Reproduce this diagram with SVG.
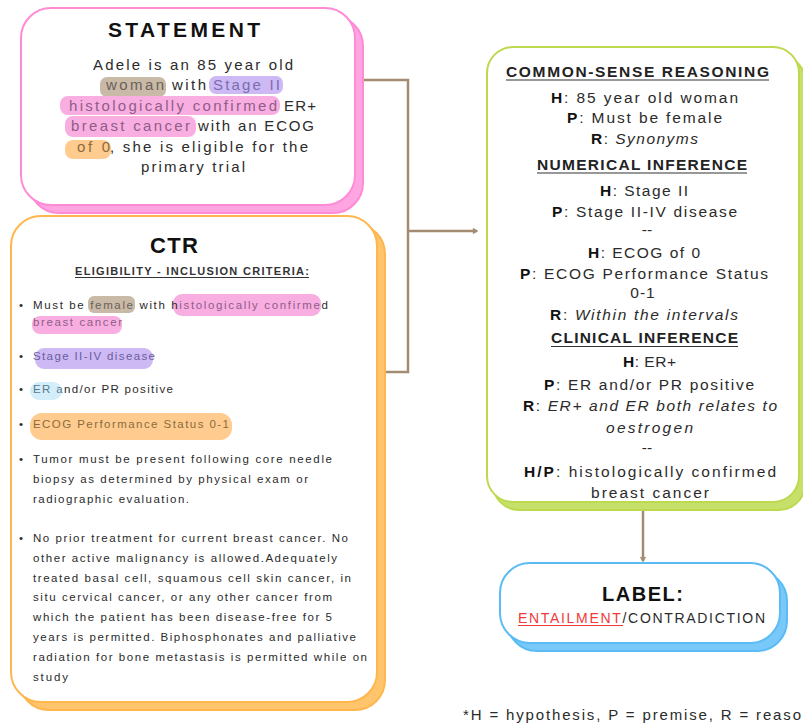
<svg xmlns="http://www.w3.org/2000/svg" width="803" height="727" viewBox="0 0 803 727">
<defs>
<style>
.t{font-family:"Liberation Sans",Arial,sans-serif;fill:#2b2b2b}
.title{font-weight:bold;fill:#111}
.st{font-size:15px}
.ct{font-size:11.5px}
.gr{font-size:15.5px}
.hd{font-weight:bold}
.ul{stroke:#333;stroke-width:1.2}
.b{font-weight:bold;fill:#111}
.i{font-style:italic}
.conn{fill:none;stroke:#a38d72;stroke-width:2.5}
.hl-tan{fill:#c9baa8}
.hl-lav{fill:#cdb9f4}
.hl-pink{fill:#f9aee2}
.hl-or{fill:#ffcb8e}
.hl-blue{fill:#d3eefa}
</style>
<marker id="arr" viewBox="0 0 10 10" refX="8" refY="5" markerWidth="6" markerHeight="6" orient="auto" markerUnits="userSpaceOnUse">
<path d="M1,1 L8,5 L1,9" fill="none" stroke="#a38d72" stroke-width="2.5"/>
</marker>
</defs>
<rect width="803" height="727" fill="#ffffff"/>

<g id="connectors">
<polyline class="conn" points="358,80 408,80 408,372 382,372"/>
<line class="conn" x1="408" y1="231" x2="477" y2="231" marker-end="url(#arr)"/>
<line class="conn" x1="643" y1="510" x2="643" y2="561" marker-end="url(#arr)"/>
</g>

<g id="statement">
<rect x="29" y="16" width="334" height="197" rx="30" fill="#ffa6e2" stroke="#ff8ad6" stroke-width="2"/>
<rect x="21" y="8" width="334" height="197" rx="30" fill="#ffffff" stroke="#ff8ad6" stroke-width="2"/>
<text class="t title" x="108" y="37" font-size="21" textLength="152" lengthAdjust="spacing">STATEMENT</text>
<rect class="hl-tan" x="100" y="77" width="66" height="20" rx="7"/>
<rect class="hl-lav" x="209" y="76" width="74" height="18" rx="7"/>
<rect class="hl-pink" x="60" y="96" width="220" height="19" rx="8"/>
<rect class="hl-pink" x="65" y="116" width="131" height="21" rx="8"/>
<rect class="hl-or" x="65" y="140" width="46" height="19" rx="8"/>
<g class="t st">
<text x="93" y="70" textLength="200" lengthAdjust="spacing">Adele is an 85 year old</text>
<text x="106" y="90" textLength="58" lengthAdjust="spacing" fill="#6b6058">woman</text>
<text x="172" y="90" textLength="34" lengthAdjust="spacing">with</text>
<text x="213" y="90" textLength="67" lengthAdjust="spacing" fill="#7b6db0">Stage II</text>
<text x="69" y="111" textLength="208" lengthAdjust="spacing" fill="#8f5d87">histologically confirmed</text>
<text x="284" y="111" textLength="32" lengthAdjust="spacing">ER+</text>
<text x="71" y="131" textLength="119" lengthAdjust="spacing" fill="#8f5d87">breast cancer</text>
<text x="198" y="131" textLength="116" lengthAdjust="spacing">with an ECOG</text>
<text x="77" y="152" textLength="33" lengthAdjust="spacing" fill="#8a6b3f">of 0</text>
<text x="110" y="152" textLength="198" lengthAdjust="spacing">, she is eligible for the</text>
<text x="141" y="172" textLength="104" lengthAdjust="spacing">primary trial</text>
</g>
</g>

<g id="ctr">
<rect x="19" y="224" width="366" height="486" rx="30" fill="#ffc46c" stroke="#ffb74d" stroke-width="2"/>
<rect x="11" y="216" width="366" height="486" rx="30" fill="#ffffff" stroke="#ffb74d" stroke-width="2"/>
<text class="t title" x="150" y="253" font-size="22" textLength="48" lengthAdjust="spacing">CTR</text>
<text class="t hd" x="75" y="275" font-size="11" textLength="234" lengthAdjust="spacing" style="fill:#333">ELIGIBILITY - INCLUSION CRITERIA:</text>
<line class="ul" x1="75" y1="277.5" x2="309" y2="277.5"/>
<rect class="hl-tan" x="88" y="296" width="47" height="17" rx="6"/>
<rect class="hl-pink" x="173" y="294" width="148" height="22" rx="9"/>
<rect class="hl-pink" x="32" y="316" width="90" height="18" rx="8"/>
<rect class="hl-lav" x="35" y="348" width="118" height="21" rx="9"/>
<rect class="hl-blue" x="30" y="382" width="32" height="18" rx="9"/>
<rect class="hl-or" x="30" y="413" width="202" height="27" rx="12"/>
<g class="t ct">
<text x="19" y="309">•</text>
<text x="33" y="309" textLength="295" lengthAdjust="spacing">Must be <tspan fill="#6b6058">female</tspan> with h<tspan fill="#8f5d87">istologically confirme</tspan>d</text>
<text x="33" y="326" textLength="89" lengthAdjust="spacing" fill="#8f5d87">breast cancer</text>
<text x="19" y="360">•</text>
<text x="33" y="360" textLength="122" lengthAdjust="spacing" fill="#6b5d9e">Stage II-IV disease</text>
<text x="19" y="393">•</text>
<text x="33" y="393" textLength="140" lengthAdjust="spacing"><tspan fill="#5a7a8a">ER a</tspan>nd/or PR positive</text>
<text x="19" y="428">•</text>
<text x="33" y="428" textLength="196" lengthAdjust="spacing" fill="#8a6b3f">ECOG Performance Status 0-1</text>
<text x="19" y="463">•</text>
<text x="33" y="463" textLength="299" lengthAdjust="spacing">Tumor must be present following core needle</text>
<text x="33" y="483" textLength="275" lengthAdjust="spacing">biopsy as determined by physical exam or</text>
<text x="33" y="503" textLength="156" lengthAdjust="spacing">radiographic evaluation.</text>
<text x="19" y="542">•</text>
<text x="33" y="542" textLength="315" lengthAdjust="spacing">No prior treatment for current breast cancer. No</text>
<text x="33" y="562" textLength="304" lengthAdjust="spacing">other active malignancy is allowed.Adequately</text>
<text x="33" y="582" textLength="318" lengthAdjust="spacing">treated basal cell, squamous cell skin cancer, in</text>
<text x="33" y="601" textLength="299" lengthAdjust="spacing">situ cervical cancer, or any other cancer from</text>
<text x="33" y="621" textLength="299" lengthAdjust="spacing">which the patient has been disease-free for 5</text>
<text x="33" y="641" textLength="323" lengthAdjust="spacing">years is permitted. Biphosphonates and palliative</text>
<text x="33" y="661" textLength="334" lengthAdjust="spacing">radiation for bone metastasis is permitted while on</text>
<text x="33" y="681" textLength="35" lengthAdjust="spacing">study</text>
</g>
</g>

<g id="reasoning">
<rect x="493" y="55" width="312" height="455" rx="26" fill="#c6e06a" stroke="#bcd94f" stroke-width="2"/>
<rect x="487" y="47" width="312" height="455" rx="26" fill="#ffffff" stroke="#bcd94f" stroke-width="2"/>
<g class="t gr">
<text x="506" y="77" class="hd" textLength="263" lengthAdjust="spacing" style="fill:#222">COMMON-SENSE REASONING</text>
<text x="551" y="103" textLength="187" lengthAdjust="spacing"><tspan class="b">H</tspan>: 85 year old woman</text>
<text x="567" y="123" textLength="155" lengthAdjust="spacing"><tspan class="b">P</tspan>: Must be female</text>
<text x="591" y="144" textLength="107" lengthAdjust="spacing"><tspan class="b">R</tspan>: <tspan class="i">Synonyms</tspan></text>
<text x="537" y="170" class="hd" textLength="210" lengthAdjust="spacing" style="fill:#222">NUMERICAL INFERENCE</text>
<text x="600" y="196" textLength="88" lengthAdjust="spacing"><tspan class="b">H</tspan>: Stage II</text>
<text x="552" y="217" textLength="185" lengthAdjust="spacing"><tspan class="b">P</tspan>: Stage II-IV disease</text>
<text x="647" y="235" text-anchor="middle">--</text>
<text x="588" y="258" textLength="112" lengthAdjust="spacing"><tspan class="b">H</tspan>: ECOG of 0</text>
<text x="520" y="279" textLength="248" lengthAdjust="spacing"><tspan class="b">P</tspan>: ECOG Performance Status</text>
<text x="643" y="298" text-anchor="middle" style="letter-spacing:1px">0-1</text>
<text x="550" y="320" textLength="188" lengthAdjust="spacing"><tspan class="b">R</tspan>: <tspan class="i">Within the intervals</tspan></text>
<text x="551" y="343" class="hd" textLength="187" lengthAdjust="spacing" style="fill:#222">CLINICAL INFERENCE</text>
<text x="623" y="367" textLength="53" lengthAdjust="spacing"><tspan class="b">H</tspan>: ER+</text>
<text x="544" y="390" textLength="210" lengthAdjust="spacing"><tspan class="b">P</tspan>: ER and/or PR positive</text>
<text x="523" y="411" textLength="254" lengthAdjust="spacing"><tspan class="b">R</tspan>: <tspan class="i">ER+ and ER both relates to</tspan></text>
<text x="606" y="433" class="i" textLength="87" lengthAdjust="spacing">oestrogen</text>
<text x="647" y="453" text-anchor="middle">--</text>
<text x="524" y="477" textLength="252" lengthAdjust="spacing"><tspan class="b">H/P</tspan>: histologically confirmed</text>
<text x="591" y="498" textLength="118" lengthAdjust="spacing">breast cancer</text>
</g>
<line class="ul" x1="506" y1="80" x2="769" y2="80"/>
<line class="ul" x1="537" y1="173" x2="747" y2="173"/>
<line class="ul" x1="551" y1="346.5" x2="738" y2="346.5"/>
</g>

<g id="label">
<rect x="507" y="571" width="280" height="80" rx="30" fill="#78c9fa" stroke="#5bbcf5" stroke-width="2"/>
<rect x="500" y="563" width="280" height="80" rx="30" fill="#ffffff" stroke="#5bbcf5" stroke-width="2"/>
<text class="t title" x="602" y="601" font-size="20" textLength="81" lengthAdjust="spacing">LABEL:</text>
<text class="t" x="518" y="623" font-size="14" textLength="247" lengthAdjust="spacing"><tspan fill="#f03a3a">ENTAILMENT</tspan>/CONTRADICTION</text>
<line x1="518" y1="625.5" x2="623" y2="625.5" stroke="#f03a3a" stroke-width="1.2"/>
</g>

<text class="t" x="463" y="720" font-size="15" textLength="338" lengthAdjust="spacing">*H = hypothesis, P = premise, R = reaso</text>
</svg>
